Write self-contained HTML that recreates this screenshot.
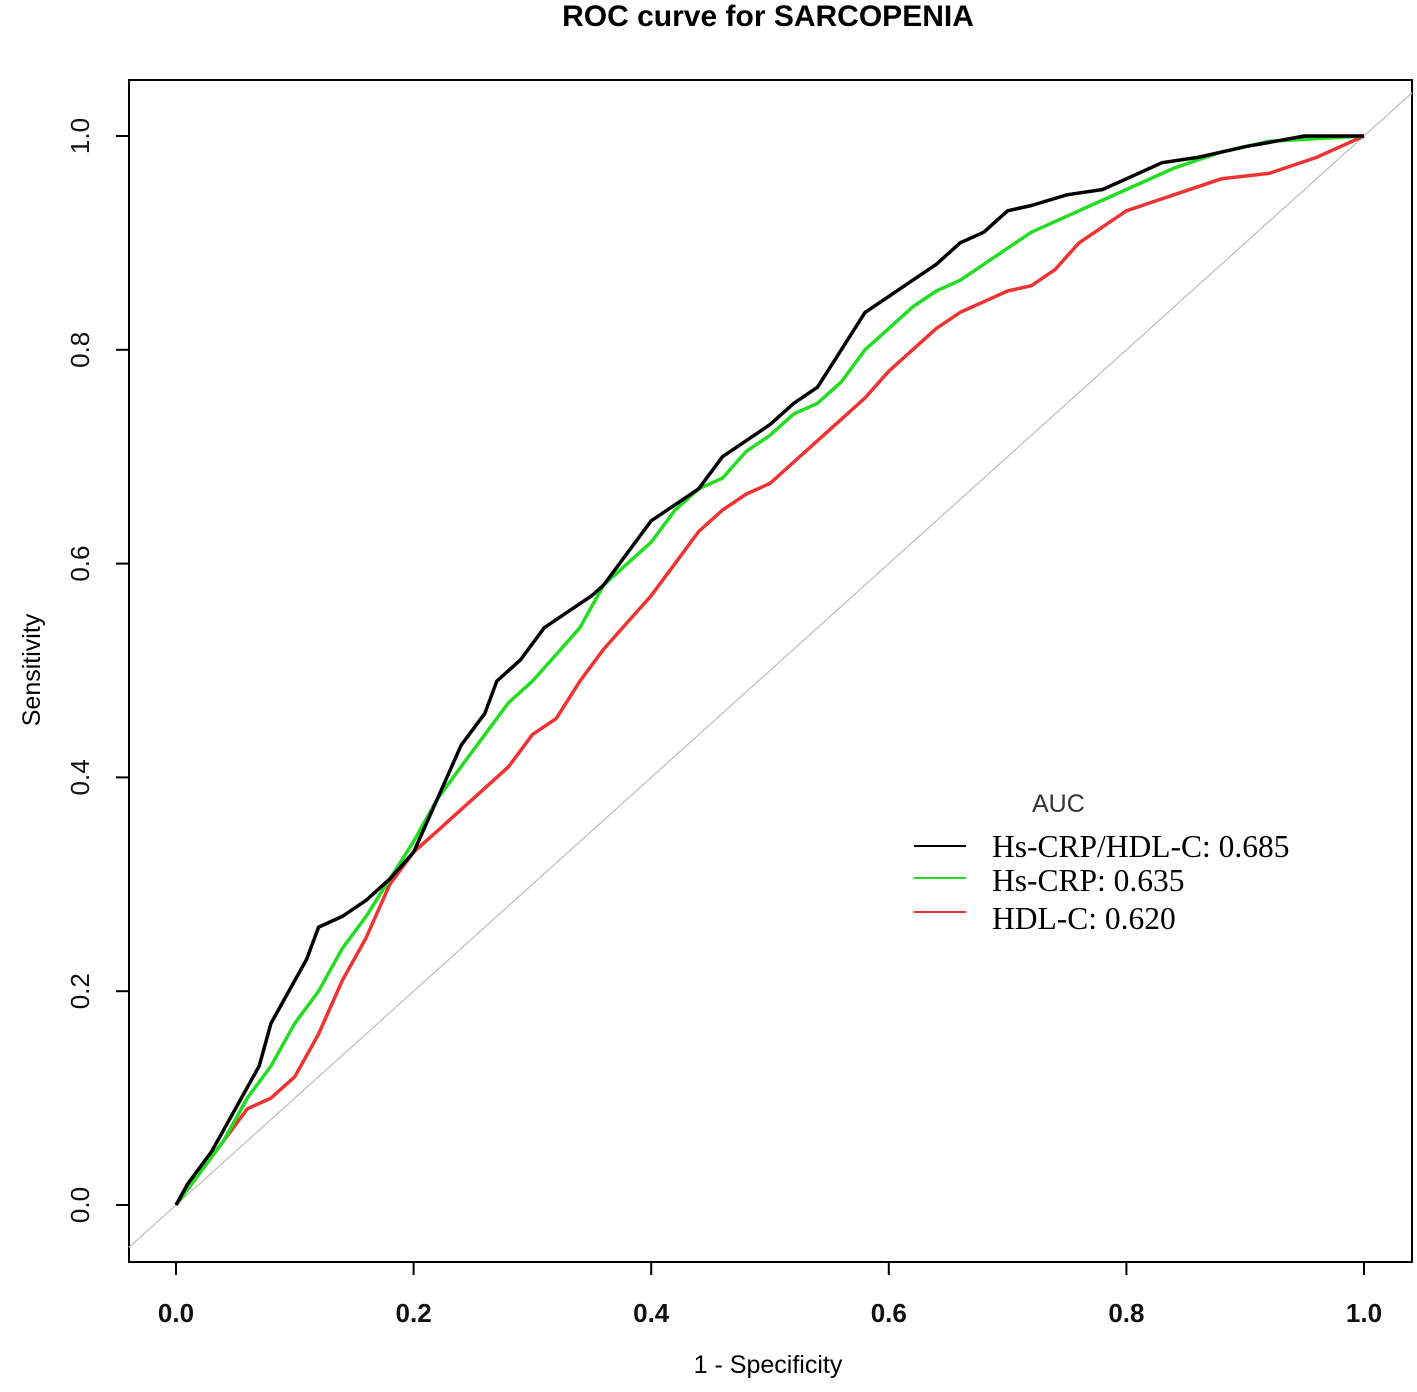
<!DOCTYPE html>
<html><head><meta charset="utf-8">
<style>
html,body{margin:0;padding:0;background:#fff;}
svg{display:block;}
</style></head>
<body>
<svg id="chart" width="1417" height="1392" xmlns="http://www.w3.org/2000/svg">
<text x="768" y="26" text-anchor="middle" font-family="Liberation Sans, sans-serif" font-weight="bold" font-size="30" fill="#000">ROC curve for SARCOPENIA</text>
<rect x="129" y="80" width="1283" height="1182" fill="none" stroke="#000" stroke-width="2"/>
<g id="axes"></g>
<g id="series"></g>
<text x="768" y="1373" text-anchor="middle" font-family="Liberation Sans, sans-serif" font-size="25" fill="#000">1 - Specificity</text>
<text transform="translate(40,670) rotate(-90)" text-anchor="middle" font-family="Liberation Sans, sans-serif" font-size="25" fill="#000">Sensitivity</text>
<g>
<text x="1032" y="812" font-family="Liberation Sans, sans-serif" font-size="25" fill="#333">AUC</text>
<line x1="914" y1="846" x2="966" y2="846" stroke="#000" stroke-width="2"/>
<line x1="914" y1="878" x2="966" y2="878" stroke="#22dd22" stroke-width="2"/>
<line x1="914" y1="912" x2="966" y2="912" stroke="#ee3333" stroke-width="2"/>
<text x="992" y="857" font-family="Liberation Serif, serif" font-size="31.5" fill="#000">Hs-CRP/HDL-C: 0.685</text>
<text x="992" y="891" font-family="Liberation Serif, serif" font-size="31.5" fill="#000">Hs-CRP: 0.635</text>
<text x="992" y="929" font-family="Liberation Serif, serif" font-size="31.5" fill="#000">HDL-C: 0.620</text>
</g>
</svg>
<script>
const xTicks = [0, 0.2, 0.4, 0.6, 0.8, 1.0];
const xTickLabels = ["0.0","0.2","0.4","0.6","0.8","1.0"];
const yTicks = [0, 0.2, 0.4, 0.6, 0.8, 1.0];
const yTickLabels = ["0.0","0.2","0.4","0.6","0.8","1.0"];
const blackFpr = [0,0.01,0.02,0.03,0.04,0.05,0.06,0.07,0.08,0.09,0.1,0.11,0.12,0.14,0.16,0.18,0.2,0.22,0.24,0.26,0.27,0.29,0.31,0.33,0.35,0.36,0.38,0.4,0.42,0.44,0.46,0.48,0.5,0.52,0.54,0.56,0.58,0.6,0.62,0.64,0.66,0.68,0.7,0.72,0.75,0.78,0.8,0.83,0.86,0.9,0.95,1];
const blackTpr = [0,0.02,0.035,0.05,0.07,0.09,0.11,0.13,0.17,0.19,0.21,0.23,0.26,0.27,0.285,0.305,0.33,0.38,0.43,0.46,0.49,0.51,0.54,0.555,0.57,0.58,0.61,0.64,0.655,0.67,0.70,0.715,0.73,0.75,0.765,0.8,0.835,0.85,0.865,0.88,0.90,0.91,0.93,0.935,0.945,0.95,0.96,0.975,0.98,0.99,1,1];
const greenFpr = [0,0.02,0.04,0.06,0.08,0.1,0.12,0.14,0.16,0.18,0.2,0.22,0.24,0.26,0.28,0.3,0.32,0.34,0.36,0.38,0.4,0.42,0.44,0.46,0.48,0.5,0.52,0.54,0.56,0.58,0.6,0.62,0.64,0.66,0.68,0.7,0.72,0.75,0.78,0.8,0.84,0.88,0.92,1];
const greenTpr = [0,0.03,0.06,0.1,0.13,0.17,0.2,0.24,0.27,0.305,0.34,0.38,0.41,0.44,0.47,0.49,0.515,0.54,0.58,0.6,0.62,0.65,0.67,0.68,0.705,0.72,0.74,0.75,0.77,0.8,0.82,0.84,0.855,0.865,0.88,0.895,0.91,0.925,0.94,0.95,0.97,0.985,0.995,1];
const redFpr = [0,0.02,0.04,0.06,0.08,0.1,0.12,0.14,0.16,0.18,0.2,0.22,0.25,0.28,0.3,0.32,0.34,0.36,0.38,0.4,0.42,0.44,0.46,0.48,0.5,0.52,0.54,0.56,0.58,0.6,0.62,0.64,0.66,0.68,0.7,0.72,0.74,0.76,0.78,0.8,0.84,0.88,0.92,0.96,0.98,1];
const redTpr = [0,0.03,0.06,0.09,0.1,0.12,0.16,0.21,0.25,0.3,0.33,0.35,0.38,0.41,0.44,0.455,0.49,0.52,0.545,0.57,0.6,0.63,0.65,0.665,0.675,0.695,0.715,0.735,0.755,0.78,0.8,0.82,0.835,0.845,0.855,0.86,0.875,0.9,0.915,0.93,0.945,0.96,0.965,0.98,0.99,1];

const NS = "http://www.w3.org/2000/svg";
const X = v => 176 + v * 1188;
const Y = v => 1205 - v * 1069;
const axes = document.getElementById('axes');
const series = document.getElementById('series');
function mk(tag, attrs, parent){const e=document.createElementNS(NS,tag);for(const k in attrs)e.setAttribute(k,attrs[k]);parent.appendChild(e);return e;}

const diag = mk('line',{x1:129,y1:Y((129-176)/1188),x2:1412,y2:Y((1412-176)/1188),stroke:'#c8c8c8','stroke-width':1.5},axes);



mk('line',{x1:X(0),y1:1262,x2:X(1),y2:1262,stroke:'#000','stroke-width':2},axes);
xTicks.forEach((t,i)=>{
  const l = mk('line',{x1:X(t),y1:1262,x2:X(t),y2:1275,stroke:'#000','stroke-width':2},axes);
  
  
  const tx = mk('text',{x:X(t),y:1322,'text-anchor':'middle','font-family':'Liberation Sans, sans-serif','font-size':26,'font-weight':'bold',fill:'#111'},axes);
  tx.textContent = xTickLabels[i];
  
  
});
yTicks.forEach((t,i)=>{
  const l = mk('line',{x1:116,y1:Y(t),x2:129,y2:Y(t),stroke:'#000','stroke-width':2},axes);
  
  
  const tx = mk('text',{transform:`translate(89,${Y(t)}) rotate(-90)`,'text-anchor':'middle','font-family':'Liberation Sans, sans-serif','font-size':26,fill:'#111'},axes);
  tx.textContent = yTickLabels[i];
  
  
});

function drawCurve(fpr,tpr,color,name){
  let d='';
  fpr.forEach((f,i)=>{d+=(i?'L':'M')+X(f).toFixed(1)+','+Y(tpr[i]).toFixed(1);});
  const p = mk('path',{d:d,fill:'none',stroke:color,'stroke-width':3.5,'stroke-linejoin':'round'},series);
  
  
}
drawCurve(redFpr,redTpr,'#ee3333','roc-curve-hdlc');
drawCurve(greenFpr,greenTpr,'#22dd22','roc-curve-hscrp');
drawCurve(blackFpr,blackTpr,'#000','roc-curve-ratio');
</script>
</body></html>
